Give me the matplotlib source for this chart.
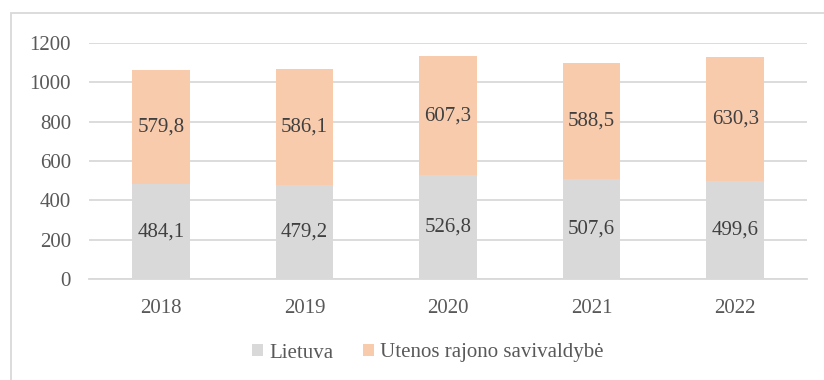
import matplotlib
matplotlib.use("Agg")
import matplotlib.pyplot as plt
from matplotlib.patches import Rectangle

years = ["2018", "2019", "2020", "2021", "2022"]
lietuva = [484.1, 479.2, 526.8, 507.6, 499.6]
utena = [579.8, 586.1, 607.3, 588.5, 630.3]
series_names = ["Lietuva", "Utenos rajono savivaldybė"]
yticks = [0, 200, 400, 600, 800, 1000, 1200]

plt.rcParams["font.family"] = ["Liberation Serif", "DejaVu Serif"]
text_color = "#595959"
grid_color = "#d9d9d9"
c_lt = "#d9d9d9"
c_ut = "#f8cbad"
fs = 15

W, H = 824, 380
fig = plt.figure(figsize=(W / 100, H / 100), dpi=100)

# outer chart frame
fig.patches.append(Rectangle((11 / W, -0.1), 1.2, 1 - 13 / H + 0.1,
                             transform=fig.transFigure, fill=False,
                             edgecolor=grid_color, linewidth=1.3))

ax = fig.add_axes([89 / W, 1 - 279.3 / H, (807 - 89) / W, (279.3 - 42.7) / H])
x = range(len(years))
w = 0.40
ax.bar(x, lietuva, width=w, color=c_lt, label=series_names[0], zorder=3)
ax.bar(x, utena, width=w, bottom=lietuva, color=c_ut, label=series_names[1], zorder=3)

for i in x:
    ax.text(i, lietuva[i] / 2, f"{lietuva[i]:.1f}".replace(".", ","),
            ha="center", va="center", fontsize=fs, color="#404040", zorder=4)
    ax.text(i, lietuva[i] + utena[i] / 2, f"{utena[i]:.1f}".replace(".", ","),
            ha="center", va="center", fontsize=fs, color="#404040", zorder=4)

ax.set_xlim(-0.5, len(years) - 0.5)
ax.set_ylim(0, 1200)
ax.set_yticks(yticks)
ax.set_xticks(list(x))
ax.set_xticklabels(years)
ax.yaxis.grid(True, color=grid_color, linewidth=1.3, zorder=0)
ax.set_axisbelow(True)
for s in ["top", "right", "left"]:
    ax.spines[s].set_visible(False)
ax.spines["bottom"].set_color(grid_color)
ax.spines["bottom"].set_linewidth(1.3)
ax.tick_params(axis="both", length=0, labelsize=fs, labelcolor=text_color)
ax.tick_params(axis="y", pad=13)
ax.tick_params(axis="x", pad=14)

fig.legend(loc="center", bbox_to_anchor=(428 / W, 1 - 353 / H), ncol=2,
           frameon=False, fontsize=fs, labelcolor=text_color,
           handlelength=0.5, handleheight=0.5, handletextpad=0.3,
           columnspacing=1.45)

fig.savefig("out.png", dpi=100)
